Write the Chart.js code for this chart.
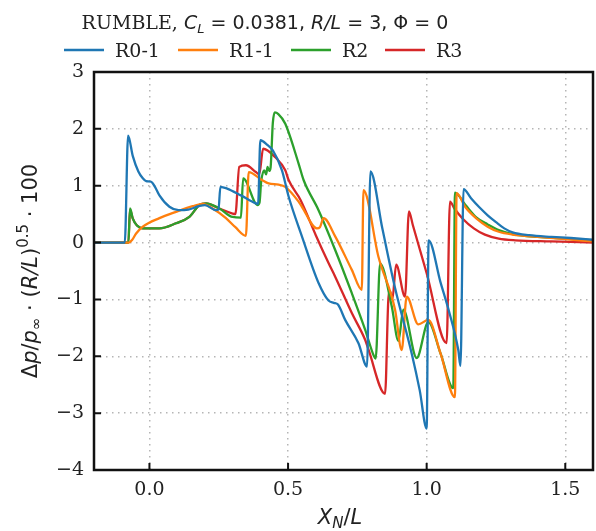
<!DOCTYPE html>
<html>
<head>
<meta charset="utf-8">
<script src="https://cdn.jsdelivr.net/npm/chart.js@4.4.1/dist/chart.umd.min.js"></script>
<style>
  html, body { margin: 0; padding: 0; background: #fff; }
  #wrap { width: 596px; height: 531px; }
</style>
</head>
<body>
<div id="wrap"><canvas id="pressureChart" width="596" height="531"></canvas></div>
<script>
// Pressure signatures along the near-field line
var seriesNames = ['R0-1', 'R1-1', 'R2', 'R3'];
var seriesColors = ['#1f77b4', '#ff7f0e', '#2ca02c', '#d62728'];

var xTickValues = [0.0, 0.5, 1.0, 1.5];
var yTickValues = [-4, -3, -2, -1, 0, 1, 2, 3];

var r01X = [-0.2, -0.089, -0.077, -0.06, -0.04, -0.024, -0.012, 0.006, 0.02, 0.036, 0.072, 0.105, 0.14, 0.178, 0.2, 0.24, 0.249, 0.256, 0.28, 0.33, 0.384, 0.392, 0.4, 0.425, 0.445, 0.478, 0.502, 0.55, 0.61, 0.646, 0.665, 0.68, 0.706, 0.754, 0.785, 0.797, 0.84, 0.886, 0.946, 0.975, 1.0, 1.007, 1.05, 1.08, 1.114, 1.122, 1.133, 1.16, 1.19, 1.22, 1.25, 1.28, 1.31, 1.37, 1.45, 1.52, 1.6];
var r01Y = [0, 0, 1.88, 1.52, 1.25, 1.13, 1.08, 1.07, 0.98, 0.83, 0.63, 0.57, 0.58, 0.64, 0.66, 0.57, 0.58, 0.98, 0.95, 0.83, 0.69, 0.68, 1.80, 1.72, 1.62, 1.27, 0.81, 0.11, -0.71, -1.02, -1.06, -1.09, -1.36, -1.77, -2.18, 1.25, 0.25, -0.8, -1.95, -2.6, -3.27, 0.04, -0.7, -1.2, -1.89, -2.17, 0.94, 0.78, 0.62, 0.48, 0.36, 0.25, 0.18, 0.13, 0.1, 0.08, 0.05];

var r11X = [-0.2, -0.074, -0.062, -0.048, -0.024, 0.036, 0.096, 0.156, 0.192, 0.228, 0.276, 0.31, 0.348, 0.358, 0.406, 0.43, 0.466, 0.49, 0.538, 0.55, 0.604, 0.615, 0.628, 0.67, 0.73, 0.766, 0.772, 0.826, 0.886, 0.91, 0.928, 0.97, 1.006, 1.05, 1.102, 1.108, 1.14, 1.18, 1.22, 1.26, 1.31, 1.4, 1.5, 1.6];
var r11Y = [0, 0, 0.05, 0.16, 0.28, 0.43, 0.54, 0.64, 0.68, 0.60, 0.43, 0.27, 0.12, 1.24, 1.10, 1.04, 1.02, 0.98, 0.72, 0.63, 0.25, 0.27, 0.43, 0.11, -0.48, -0.83, 0.92, -0.25, -1.18, -1.89, -0.95, -1.44, -1.36, -1.95, -2.72, 0.87, 0.62, 0.42, 0.28, 0.19, 0.14, 0.1, 0.06, 0.02];

var r2X = [-0.2, -0.076, -0.07, -0.06, -0.045, -0.024, 0.036, 0.096, 0.144, 0.18, 0.204, 0.252, 0.3, 0.33, 0.338, 0.39, 0.397, 0.403, 0.414, 0.421, 0.426, 0.432, 0.437, 0.445, 0.452, 0.465, 0.49, 0.538, 0.556, 0.61, 0.67, 0.73, 0.778, 0.81, 0.816, 0.832, 0.874, 0.898, 0.916, 0.964, 1.006, 1.05, 1.096, 1.102, 1.14, 1.18, 1.22, 1.26, 1.31, 1.4, 1.5, 1.6];
var r2Y = [0, 0, 0.60, 0.42, 0.30, 0.25, 0.25, 0.34, 0.45, 0.66, 0.69, 0.60, 0.45, 0.44, 1.13, 0.66, 0.70, 1.07, 1.27, 1.2, 1.33, 1.26, 1.32, 2.1, 2.29, 2.26, 2.09, 1.39, 1.10, 0.57, -0.13, -0.89, -1.53, -2.0, -2.04, -0.37, -1.12, -1.73, -1.18, -2.03, -1.40, -1.95, -2.56, 0.88, 0.66, 0.44, 0.32, 0.22, 0.15, 0.1, 0.07, 0.04];

var r3X = [-0.2, -0.076, -0.07, -0.06, -0.045, -0.024, 0.036, 0.096, 0.144, 0.18, 0.204, 0.252, 0.3, 0.31, 0.324, 0.348, 0.384, 0.396, 0.41, 0.454, 0.49, 0.502, 0.545, 0.6, 0.646, 0.67, 0.73, 0.778, 0.79, 0.85, 0.862, 0.868, 0.876, 0.89, 0.922, 0.936, 0.95, 1.0, 1.072, 1.084, 1.1, 1.13, 1.17, 1.21, 1.26, 1.32, 1.45, 1.6];
var r3Y = [0, 0, 0.58, 0.42, 0.30, 0.25, 0.25, 0.34, 0.45, 0.66, 0.69, 0.60, 0.51, 0.50, 1.33, 1.36, 1.24, 1.20, 1.65, 1.50, 1.27, 1.10, 0.75, 0.13, -0.36, -0.60, -1.24, -1.71, -1.88, -2.66, -0.98, -0.86, -1.0, -0.39, -0.95, 0.55, 0.31, -0.54, -1.77, 0.72, 0.6, 0.42, 0.25, 0.14, 0.07, 0.04, 0.02, 0];

var SERIF = '"DejaVu Serif"';
var SANS = '"DejaVu Sans"';

function toPoints(xs, ys) {
    return xs.map((x, i) => ({ x: x, y: ys[i] }));
}

// Draws a row of text pieces, each with its own font and baseline shift
function drawRuns(ctx, runs, x, y, align) {
    var width = 0;
    runs.forEach(r => { ctx.font = r[1]; width += ctx.measureText(r[0]).width; });
    var cx = align === 'center' ? x - width / 2 : x;
    runs.forEach(r => {
        ctx.font = r[1];
        ctx.fillText(r[0], cx, y + (r[2] || 0));
        cx += ctx.measureText(r[0]).width;
    });
}

function minusLabel(v) {
    return v < 0 ? '\u2212' + Math.abs(v) : String(v);
}

// Frame, inward ticks, title, legend and axis titles
var decorations = {
    id: 'decorations',
    afterDraw: function(chart) {
        var ctx = chart.ctx;
        var area = chart.chartArea;
        var xs = chart.scales.x, ys = chart.scales.y;
        ctx.save();

        ctx.strokeStyle = '#111';
        ctx.lineWidth = 2.5;
        ctx.strokeRect(area.left, area.top, area.right - area.left, area.bottom - area.top);

        ctx.lineWidth = 2;
        ctx.beginPath();
        xTickValues.forEach(v => {
            var px = xs.getPixelForValue(v);
            ctx.moveTo(px, area.bottom);
            ctx.lineTo(px, area.bottom - 7);
        });
        yTickValues.forEach(v => {
            var py = ys.getPixelForValue(v);
            ctx.moveTo(area.left, py);
            ctx.lineTo(area.left + 7, py);
        });
        ctx.stroke();

        ctx.fillStyle = '#222';
        ctx.textBaseline = 'alphabetic';
        ctx.textAlign = 'left';

        // title
        drawRuns(ctx, [
            ['RUMBLE, ', '19px ' + SERIF],
            ['C', 'italic 19px ' + SANS],
            ['L', 'italic 13px ' + SANS, 4],
            [' = 0.0381, ', '19px ' + SANS],
            ['R/L', 'italic 19px ' + SANS],
            [' = 3, ', '19px ' + SANS],
            ['\u03A6', '19px ' + SANS],
            [' = 0', '19px ' + SANS]
        ], 265, 29, 'center');

        // legend
        var legendX = [64, 178, 291, 385];
        seriesNames.forEach((name, i) => {
            ctx.strokeStyle = seriesColors[i];
            ctx.lineWidth = 2.3;
            ctx.beginPath();
            ctx.moveTo(legendX[i], 50);
            ctx.lineTo(legendX[i] + 40, 50);
            ctx.stroke();
            ctx.font = '19px ' + SERIF;
            ctx.fillText(name, legendX[i] + 51, 57);
        });

        // x axis title
        drawRuns(ctx, [
            ['X', 'italic 21px ' + SANS],
            ['N', 'italic 15px ' + SANS, 4],
            ['/', '21px ' + SANS],
            ['L', 'italic 21px ' + SANS]
        ], 340, 524, 'center');

        // y axis title
        ctx.translate(37, (area.top + area.bottom) / 2);
        ctx.rotate(-Math.PI / 2);
        drawRuns(ctx, [
            ['\u0394', '21px ' + SANS],
            ['p', 'italic 21px ' + SANS],
            ['/', '21px ' + SANS],
            ['p', 'italic 21px ' + SANS],
            ['\u221E', '15px ' + SANS, 4],
            [' \u00B7 (', '21px ' + SANS],
            ['R/L', 'italic 21px ' + SANS],
            [')', '21px ' + SANS],
            ['0.5', '15px ' + SANS, -9],
            [' \u00B7 100', '21px ' + SANS]
        ], 0, 0, 'center');

        ctx.restore();
    }
};

var pointSets = [toPoints(r01X, r01Y), toPoints(r11X, r11Y), toPoints(r2X, r2Y), toPoints(r3X, r3Y)];

new Chart(document.getElementById('pressureChart').getContext('2d'), {
    type: 'line',
    data: {
        datasets: seriesNames.map((name, i) => ({
            label: name,
            data: pointSets[i],
            borderColor: seriesColors[i],
            backgroundColor: seriesColors[i],
            borderWidth: 2.3,
            pointRadius: 0,
            cubicInterpolationMode: 'monotone',
            fill: false
        }))
    },
    options: {
        responsive: false,
        animation: false,
        devicePixelRatio: 1,
        layout: { padding: { top: 72, right: 3, left: 0, bottom: 0 } },
        plugins: {
            legend: { display: false },
            title: { display: false },
            tooltip: { enabled: false }
        },
        scales: {
            x: {
                type: 'linear',
                min: -0.2,
                max: 1.6,
                afterBuildTicks: s => { s.ticks = xTickValues.map(v => ({ value: v })); },
                afterFit: s => { s.height = 61; },
                grid: { color: '#b5b5b5', lineWidth: 1.5, drawTicks: false },
                border: { display: false, dash: [1.5, 4.5] },
                ticks: {
                    font: { family: SERIF, size: 19 },
                    color: '#222',
                    padding: 9,
                    maxRotation: 0,
                    callback: v => v.toFixed(1)
                }
            },
            y: {
                type: 'linear',
                min: -4,
                max: 3,
                afterBuildTicks: s => { s.ticks = yTickValues.map(v => ({ value: v })); },
                afterFit: s => { s.width = 94; },
                grid: { color: '#b5b5b5', lineWidth: 1.5, drawTicks: false },
                border: { display: false, dash: [1.5, 4.5] },
                ticks: {
                    font: { family: SERIF, size: 19 },
                    color: '#222',
                    padding: 10,
                    callback: v => minusLabel(v)
                }
            }
        }
    },
    plugins: [decorations]
});
</script>
</body>
</html>
